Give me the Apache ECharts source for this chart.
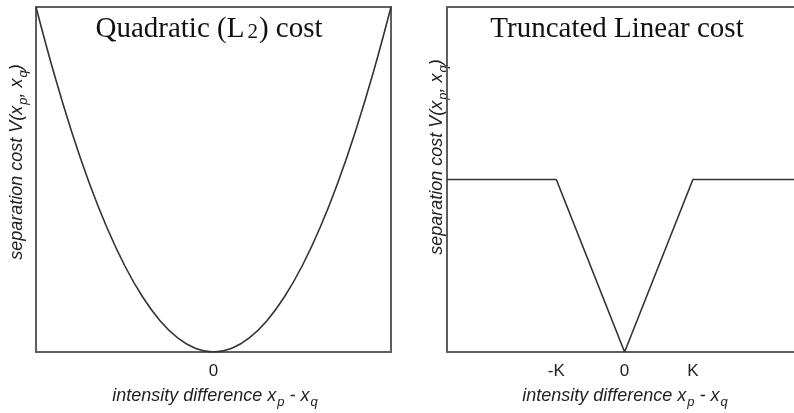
<!DOCTYPE html>
<html>
<head>
<meta charset="utf-8">
<script src="https://cdn.jsdelivr.net/npm/echarts@6/dist/echarts.min.js"></script>
<style>html,body{margin:0;padding:0;background:#fff}#c{width:794px;height:413px}</style>
</head>
<body>
<div id="c"></div>
<script>
// Quadratic cost curve
const quadX = [-1, -0.9, -0.8, -0.7, -0.6, -0.5, -0.4, -0.3, -0.2, -0.1, 0, 0.1, 0.2, 0.3, 0.4, 0.5, 0.6, 0.7, 0.8, 0.9, 1];
const quadY = [1, 0.81, 0.64, 0.49, 0.36, 0.25, 0.16, 0.09, 0.04, 0.01, 0, 0.01, 0.04, 0.09, 0.16, 0.25, 0.36, 0.49, 0.64, 0.81, 1];
// Truncated linear cost
const truncX = [-2.6, -1, 0, 1, 2.48];
const truncY = [1, 1, 0, 1, 1];
// Tick labels
const leftTickValues = [0];
const leftTickLabels = ['0'];
const rightTickValues = [-1, 0, 1];
const rightTickLabels = ['-K', '0', 'K'];
const titles = ['Quadratic (L{sub|2}) cost', 'Truncated Linear cost'];
const xName = 'intensity difference x{sub|p} - x{sub|q}';
const yName = 'separation cost V(x{sub|p}, x{sub|q})';

const chart = echarts.init(document.getElementById('c'), null, {renderer: 'canvas'});
const border = '#5e5e5e';
const lineCol = '#333';
const sansFont = 'Liberation Sans, Arial, sans-serif';
const serifFont = 'Liberation Serif, Times New Roman, serif';
const frameLine = {show: true, onZero: false, lineStyle: {color: border, width: 2}};

function mkLabelAxis(idx, min, max, vals, labels, showLine) {
  return {
    type: 'value', gridIndex: idx, min: min, max: max,
    axisLine: showLine ? frameLine : {show: false}, axisTick: {show: false}, splitLine: {show: false},
    axisLabel: {
      customValues: vals,
      formatter: v => { const i = vals.indexOf(v); return i >= 0 ? labels[i] : ''; },
      fontFamily: sansFont, fontSize: 17, color: '#222', margin: 11
    }
  };
}

const subRich = {sub: {fontSize: 13, fontStyle: 'italic', fontFamily: sansFont, fill: '#222', padding: [13, 0, 0, 1]}};

chart.setOption({
  animation: false,
  backgroundColor: '#fff',
  grid: [
    {left: 36, top: 7, width: 355, height: 345, show: true, borderColor: border, borderWidth: 2, backgroundColor: 'transparent'},
    {left: 447, top: 7, width: 348, height: 345, show: false}
  ],
  xAxis: [
    mkLabelAxis(0, -1, 1, leftTickValues, leftTickLabels, false),
    mkLabelAxis(1, -2.6, 2.48, rightTickValues, rightTickLabels, true),
    {type: 'value', gridIndex: 1, position: 'top', min: -2.6, max: 2.48, axisLine: frameLine, axisTick: {show: false}, axisLabel: {show: false}, splitLine: {show: false}}
  ],
  yAxis: [
    {type: 'value', gridIndex: 0, min: 0, max: 1, show: false},
    {type: 'value', gridIndex: 1, min: 0, max: 2, axisLine: frameLine, axisTick: {show: false}, axisLabel: {show: false}, splitLine: {show: false}}
  ],
  series: [
    {type: 'line', xAxisIndex: 0, yAxisIndex: 0, data: quadX.map((x, i) => [x, quadY[i]]), smooth: 0.4, symbol: 'none', lineStyle: {color: lineCol, width: 1.6}},
    {type: 'line', xAxisIndex: 1, yAxisIndex: 1, data: truncX.map((x, i) => [x, truncY[i]]), symbol: 'none', lineStyle: {color: lineCol, width: 1.6}}
  ],
  graphic: [
    {type: 'text', x: 209, y: 29, style: {text: titles[0], font: '29px ' + serifFont, fill: '#111', align: 'center', verticalAlign: 'middle',
      rich: {sub: {fontSize: 21, fontFamily: serifFont, fill: '#111', padding: [6, 1, 0, 3]}}}},
    {type: 'text', x: 617, y: 29, style: {text: titles[1], font: '29px ' + serifFont, fill: '#111', align: 'center', verticalAlign: 'middle'}},
    {type: 'text', x: 215, y: 396, style: {text: xName, font: 'italic 18px ' + sansFont, fill: '#222', align: 'center', verticalAlign: 'middle', rich: subRich}},
    {type: 'text', x: 625, y: 396, style: {text: xName, font: 'italic 18px ' + sansFont, fill: '#222', align: 'center', verticalAlign: 'middle', rich: subRich}},
    {type: 'text', x: 17, y: 162, rotation: Math.PI / 2, style: {text: yName, font: 'italic 18px ' + sansFont, fill: '#222', align: 'center', verticalAlign: 'middle', rich: subRich}},
    {type: 'text', x: 437, y: 157, rotation: Math.PI / 2, style: {text: yName, font: 'italic 18px ' + sansFont, fill: '#222', align: 'center', verticalAlign: 'middle', rich: subRich}}
  ]
});
</script>
</body>
</html>
